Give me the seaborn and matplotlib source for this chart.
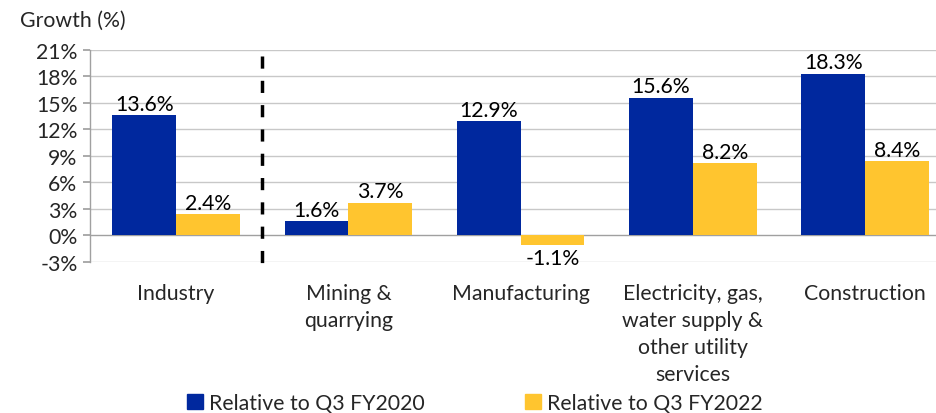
import matplotlib.pyplot as plt
import seaborn as sns
import pandas as pd
from matplotlib.patches import Patch
from matplotlib.ticker import FuncFormatter

categories = ['Industry', 'Mining &\nquarrying', 'Manufacturing',
              'Electricity, gas,\nwater supply &\nother utility\nservices', 'Construction']
series_names = ['Relative to Q3 FY2020', 'Relative to Q3 FY2022']
vs_fy2020 = [13.6, 1.6, 12.9, 15.6, 18.3]
vs_fy2022 = [2.4, 3.7, -1.1, 8.2, 8.4]
yticks = [-3, 0, 3, 6, 9, 12, 15, 18, 21]

colors = ['#00289E', '#FFC52F']
fs = 15.3

df = pd.DataFrame({
    'category': categories * 2,
    'series': [series_names[0]] * 5 + [series_names[1]] * 5,
    'value': vs_fy2020 + vs_fy2022,
})

sns.set_theme(style='white')
plt.rcParams['font.family'] = ['Lato', 'DejaVu Sans']

fig = plt.figure(figsize=(9.37, 4.14), dpi=100)
ax = fig.add_axes([0.096, 0.365, 0.904, 0.512])

sns.barplot(data=df, x='category', y='value', hue='series', order=categories,
            hue_order=series_names, palette=colors, width=0.74, gap=0,
            saturation=1, legend=False, linewidth=0, edgecolor='none', ax=ax)

# data labels
for cont in ax.containers:
    for bar in cont:
        v = bar.get_height()
        x = bar.get_x() + bar.get_width() / 2
        if v >= 0:
            ax.annotate(f'{v:.1f}%', (x, v), xytext=(0, 1), textcoords='offset points',
                        ha='center', va='bottom', fontsize=fs, color='black')
        else:
            ax.annotate(f'{v:.1f}%', (x, v), xytext=(0, -2), textcoords='offset points',
                        ha='center', va='top', fontsize=fs, color='black')

ax.set_ylim(-3, 21)
ax.set_xlim(-0.5, 4.417)
ax.set_yticks(yticks)
ax.yaxis.set_major_formatter(FuncFormatter(lambda v, p: f'{v:.0f}%'))
ax.tick_params(axis='y', labelsize=fs, length=5, color='#A0A0A0', left=True, pad=4)
ax.tick_params(axis='x', labelsize=fs, length=0, pad=15)
for lab in ax.get_xticklabels():
    lab.set_linespacing(1.45)
ax.set_xlabel('')
ax.set_ylabel('')

for y in yticks:
    ax.axhline(y, color='#C8C8C8' if y != 0 else '#A0A0A0', lw=1, zorder=0)

for s in ['top', 'right', 'bottom']:
    ax.spines[s].set_visible(False)
ax.spines['left'].set_color('#A0A0A0')
ax.spines['left'].set_linewidth(1)

# dashed separator
ax.plot([0.5, 0.5], [20.3, -3.8], color='black', lw=2.5, ls=(0, (3.5, 3.5)),
        clip_on=False, zorder=3)

fig.text(0.021, 0.95, 'Growth (%)', fontsize=fs, ha='left', va='center')

handles = [Patch(color=c, label=n) for c, n in zip(colors, series_names)]
fig.legend(handles=handles, loc='center', bbox_to_anchor=(0.507, 0.024), ncol=2,
           frameon=False, fontsize=fs, handlelength=0.75, handleheight=0.75,
           handletextpad=0.3, columnspacing=4.7, borderpad=0)

fig.savefig('out.png', dpi=100)
